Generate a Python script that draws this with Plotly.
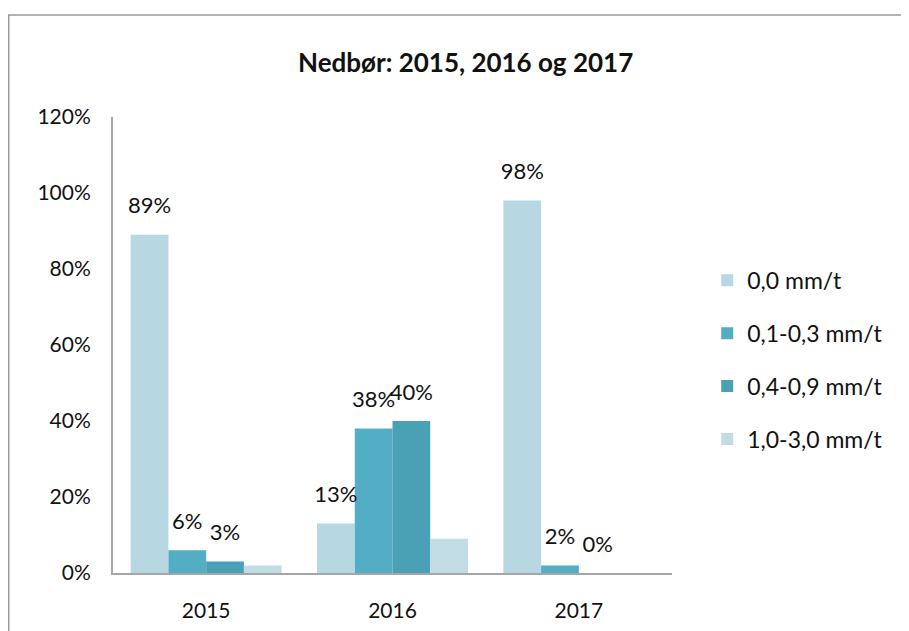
import plotly.graph_objects as go

years = ["2015", "2016", "2017"]
series_names = ["0,0 mm/t", "0,1-0,3 mm/t", "0,4-0,9 mm/t", "1,0-3,0 mm/t"]
s1 = [0.89, 0.13, 0.98]
s2 = [0.06, 0.38, 0.02]
s3 = [0.03, 0.40, 0.00]
s4 = [0.02, 0.09, 0.00]
labels1 = ["89%", "13%", "98%"]
labels2 = ["6%", "38%", "2%"]
labels3 = ["3%", "40%", "0%"]
labels4 = ["", "", ""]

colors = ["#B7D7E2", "#53ADC4", "#4AA0B5", "#C1DCE5"]
FONT = "Lato, 'Open Sans', sans-serif"

fig = go.Figure()
all_vals = [s1, s2, s3, s4]
all_labels = [labels1, labels2, labels3, labels4]
for i, vals in enumerate(all_vals):
    fig.add_trace(go.Bar(
        x=years, y=vals, name=series_names[i],
        marker=dict(color=colors[i], line=dict(width=0)),
        offsetgroup="g%d" % i,
        legendgroup=str(i), hoverinfo="skip",
    ))
for i, (vals, labs) in enumerate(zip(all_vals, all_labels)):
    fig.add_trace(go.Scatter(
        x=years, y=vals, text=labs, mode="markers+text",
        textposition="top center",
        marker=dict(size=24, color="rgba(0,0,0,0)"),
        textfont=dict(family=FONT, size=22, color="#111111"),
        offsetgroup="g%d" % i, showlegend=False, hoverinfo="skip", cliponaxis=False,
    ))

fig.update_layout(
    width=909, height=631,
    paper_bgcolor="white", plot_bgcolor="white",
    margin=dict(l=105, r=245, t=109, b=66),
    barmode="group", bargap=0.19, bargroupgap=0,
    scattermode="group", scattergap=0.19,
    font=dict(family=FONT, size=20, color="#111111"),
    showlegend=True,
    legend=dict(x=1.063, y=0.689, xanchor="left", yanchor="top",
                font=dict(family=FONT, size=23, color="#111111"),
                tracegroupgap=20, itemwidth=30, traceorder="grouped"),
    annotations=[dict(text="<b>Nedbør: 2015, 2016 og 2017</b>", xref="paper", yref="paper",
                      x=0.63, y=1.1206, xanchor="center", yanchor="middle", showarrow=False,
                      font=dict(family=FONT, size=26, color="#111111"))],
    shapes=[dict(type="rect", xref="paper", yref="paper", x0=-0.1865, x1=1.6, y0=-0.4, y1=1.2237,
                 line=dict(color="#9A9A9A", width=1.5), fillcolor="rgba(0,0,0,0)", layer="below")],
)
fig.update_xaxes(showline=True, linecolor="#A6A6A6", linewidth=2, showgrid=False,
                 ticks="", tickfont=dict(family=FONT, size=21), ticklabelstandoff=18)
fig.update_yaxes(range=[0, 1.2], dtick=0.2, tickformat=".0%", showline=True, linecolor="#A6A6A6",
                 linewidth=2, showgrid=False, zeroline=False, ticks="",
                 tickfont=dict(family=FONT, size=21), ticklabelstandoff=16)

fig.write_html("out.html")
